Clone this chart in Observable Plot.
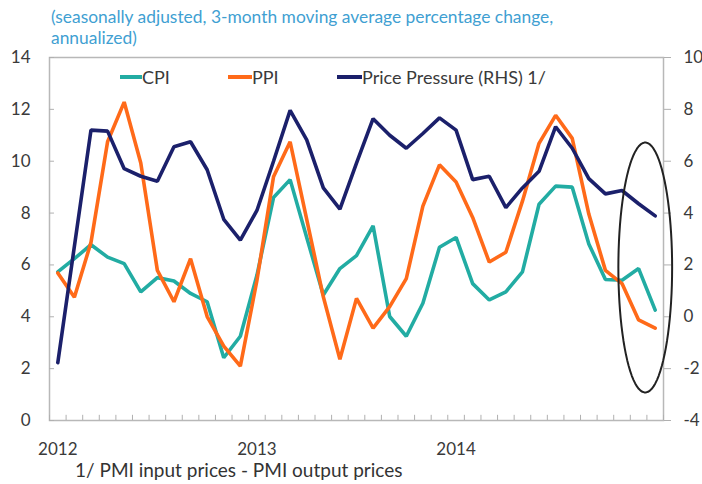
<!DOCTYPE html>
<html><head><meta charset="utf-8">
<script src="https://cdn.jsdelivr.net/npm/d3@7"></script>
<script src="https://cdn.jsdelivr.net/npm/@observablehq/plot@0.6"></script>
<style>
body{margin:0;background:#fff;font-family:Lato,"Open Sans",sans-serif;}
#wrap{position:relative;width:702px;height:484px;overflow:hidden;}
#sub{position:absolute;left:51px;top:6px;font-size:17.4px;line-height:21px;color:#3f9fd2;white-space:nowrap;}
#chart{position:absolute;left:0;top:38px;}
#foot{position:absolute;left:75px;top:460px;font-size:19px;line-height:20px;color:#333;white-space:nowrap;}
#legend{position:absolute;top:67px;left:0;height:20px;width:702px;font-size:18px;color:#3a3a3a;}
.item{position:absolute;top:0;display:flex;align-items:center;height:20px;white-space:nowrap;}
.sw{display:inline-block;height:3.5px;margin-right:0px;}
</style>
</head><body>
<div id="wrap">
  <div id="sub"></div>
  <div id="chart"></div>
  <div id="legend"></div>
  <div id="foot"></div>
</div>
<script>
// ---- data (monthly, Jan 2012 .. Jan 2015) ----
const months = d3.range(37);
const cpi = [5.73,6.24,6.78,6.30,6.05,4.96,5.51,5.38,4.90,4.58,2.42,3.25,
             5.60,8.60,9.29,7.06,4.84,5.86,6.36,7.51,4.01,3.25,4.52,6.68,
             7.06,5.28,4.65,4.96,5.73,8.34,9.04,9.00,6.81,5.44,5.41,5.86,4.26];
const ppi = [5.69,4.75,6.87,10.75,12.28,9.93,5.79,4.58,6.24,4.01,2.87,2.10,
             5.40,9.40,10.75,7.76,4.77,2.36,4.71,3.56,4.39,5.47,8.27,9.86,
             9.20,7.83,6.11,6.49,8.46,10.69,11.77,10.88,7.96,5.79,5.28,3.88,3.56];
// Price pressure, right-hand scale
const pressure = [-1.77,2.72,7.20,7.16,5.71,5.42,5.23,6.56,6.75,5.67,3.76,2.96,
                  4.10,6.00,7.96,6.82,4.97,4.15,5.93,7.64,7.00,6.50,7.07,7.67,
                  7.20,5.29,5.42,4.21,4.97,5.61,7.33,6.50,5.33,4.74,4.87,4.36,3.89];
const yearLabels = ["2012","2013","2014"];
const yearMonths = [0,12,24];
const leftTicks = [0,2,4,6,8,10,12,14];
const rightTicks = [-4,-2,0,2,4,6,8,10];
const rhsOffset = 4; // RHS value + 4 = LHS value
const seriesNames = ["CPI","PPI","Price Pressure (RHS) 1/"];
const colors = ["#22aca3","#ff6a19","#1b206b"];
const subtitle = ["(seasonally adjusted, 3-month moving average percentage change,","annualized)"];
const footnote = "1/ PMI input prices - PMI output prices";
// highlighted region (ellipse annotation) in data units
const highlight = {month: 35.4, value: 5.9, rMonths: 1.62, rValue: 4.82};

// ---- build ----
const rows = [];
months.forEach((m,i)=>{
  rows.push({m, v: cpi[i], s: seriesNames[0]});
  rows.push({m, v: ppi[i], s: seriesNames[1]});
  rows.push({m, v: pressure[i] + rhsOffset, s: seriesNames[2]});
});
const ell = d3.range(0, 361, 4).map(a => ({
  m: highlight.month + highlight.rMonths*Math.cos(a*Math.PI/180),
  v: highlight.value + highlight.rValue*Math.sin(a*Math.PI/180)
}));
const bounds = d3.range(-0.5, 37, 1);

const font = "Lato, 'Open Sans', sans-serif";
const plot = Plot.plot({
  width: 702, height: 424,
  marginTop: 19, marginBottom: 42, marginLeft: 49, marginRight: 39,
  style: {fontFamily: font, fontSize: "17px", color: "#3a3a3a", background: "transparent"},
  x: {domain: [-0.5, 36.5]},
  y: {domain: [0, 14]},
  color: {domain: seriesNames, range: colors},
  marks: [
    Plot.frame({stroke: "#b8b8b8", strokeWidth: 1.5}),
    Plot.ruleX(bounds, {x: d => d, y1: 0, y2: 0.2, stroke: "#b0b0b0"}),
    Plot.ruleY(leftTicks, {y: d => d, x1: -0.5, x2: -0.2, stroke: "#b0b0b0"}),
    Plot.axisY({anchor: "left", label: null, ticks: leftTicks, tickSize: 0, tickPadding: 19, fontSize: 17, tickFormat: d => String(d)}),
    Plot.axisY({anchor: "right", label: null, ticks: rightTicks.map(d => d + rhsOffset), tickSize: 7, tickPadding: 13, stroke: "#b0b0b0", fontSize: 17, tickFormat: d => String(d - rhsOffset), textAnchor: "start"}),
    Plot.axisX({label: null, ticks: yearMonths, tickSize: 0, tickPadding: 22, fontSize: 17, tickFormat: d => yearLabels[yearMonths.indexOf(d)]}),
    Plot.line(rows, {x: "m", y: "v", z: "s", stroke: "s", strokeWidth: 3.6, strokeLinejoin: "miter"}),
    Plot.line(ell, {x: "m", y: "v", stroke: "#222", strokeWidth: 2})
  ]
});
document.getElementById("chart").appendChild(plot);
document.getElementById("sub").innerHTML = subtitle.join("<br>");
document.getElementById("foot").textContent = footnote;
const legPos = [120, 228, 337];
const swW = [22, 24, 25];
const leg = document.getElementById("legend");
seriesNames.forEach((n,i)=>{
  const d = document.createElement("div");
  d.className = "item";
  d.style.left = legPos[i] + "px";
  d.innerHTML = `<span class="sw" style="width:${swW[i]}px;background:${colors[i]}"></span><span>${n}</span>`;
  leg.appendChild(d);
});
</script>
</body></html>
